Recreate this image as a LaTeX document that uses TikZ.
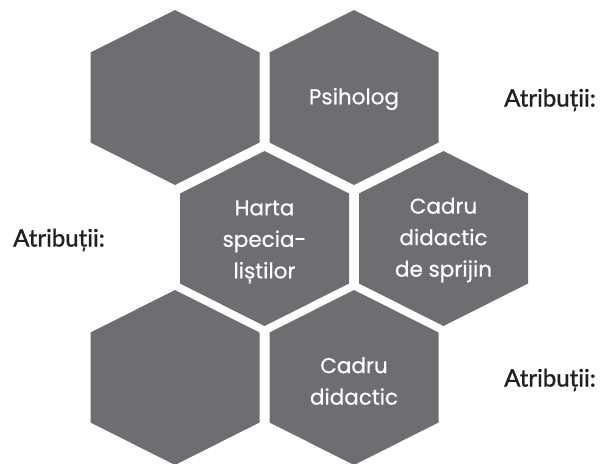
\documentclass[tikz,border=0pt]{standalone}
\usepackage{fontspec}
\setmainfont{Poppins}
\newfontfamily\hexfont[FakeBold=0.6]{Poppins}
\newfontfamily\labelfont[FakeBold=1.2]{Lato}
\definecolor{hexgray}{RGB}{109,110,114}
\definecolor{labelink}{RGB}{35,31,32}
\tikzset{
  hexcell/.style={fill=hexgray},
  hextext/.style={text=white, align=center, font=\hexfont\fontsize{21.5}{31.5}\selectfont, inner sep=0pt},
  attrlabel/.style={text=labelink, anchor=base west, inner sep=0pt, font=\labelfont\fontsize{24}{28}\selectfont}
}
\begin{document}
\begin{tikzpicture}[x=1pt,y=-1pt]
    \useasboundingbox (0,0) rectangle (607,463);
    % honeycomb
    \foreach \cx/\cy in {175/97.5, 354/97.5, 264.5/238.5, 443.5/238.5, 175/377.5, 354/377.5}
        \fill[hexcell] (\cx,\cy) +(0,-87.5) -- +(84.5,-45) -- +(84.5,45) -- +(0,87.5)
            -- +(-84.5,45) -- +(-84.5,-45) -- cycle;

    \node[hextext] (psiholog) at (354,99) {Psiholog};
    \node[hextext] (harta) at (264.5,242) {Harta\\specia-\\liștilor};
    \node[hextext] (sprijin) at (443.5,240) {Cadru\\didactic\\de sprijin};
    \node[hextext] (didactic) at (354,381) {Cadru\\didactic};

    % labels
    \node[attrlabel] (atrsus) at (504,106.5) {Atribuții:};
    \node[attrlabel] (atrst) at (13,246.5) {Atribuții:};
    \node[attrlabel] (atrjos) at (504,386.5) {Atribuții:};
\end{tikzpicture}
\end{document}
